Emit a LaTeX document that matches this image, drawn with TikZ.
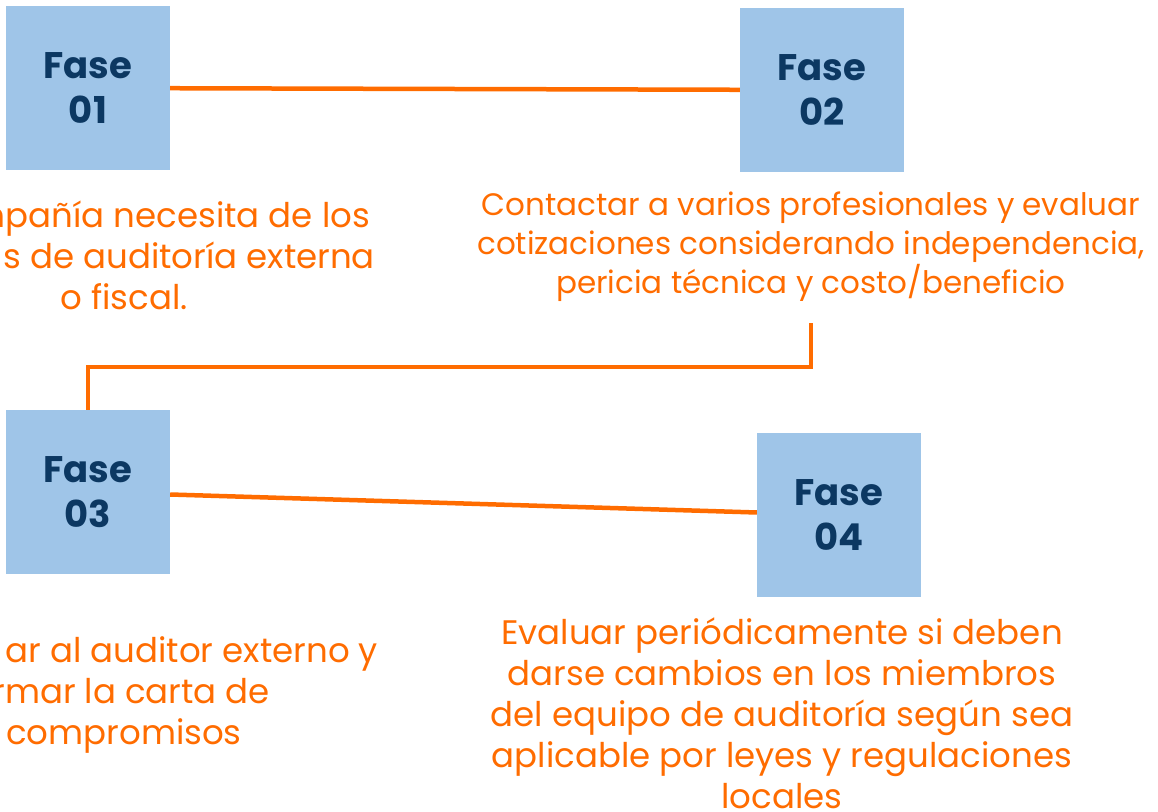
\documentclass[tikz,border=0pt]{standalone}
\usepackage{fontspec}
\setmainfont{Poppins}
\definecolor{faseblue}{RGB}{159,197,232}
\definecolor{fasenavy}{RGB}{12,56,98}
\definecolor{faseorange}{RGB}{255,108,0}

\begin{document}
\begin{tikzpicture}[x=1pt, y=-1pt,
		fase/.style={rectangle, fill=faseblue, minimum size=164pt, inner sep=0pt, align=center,
			text=fasenavy, font=\fontsize{37}{45}\selectfont\bfseries},
		desc/.style={inner sep=0pt, align=center, text=faseorange, font=\fontsize{34}{41}\selectfont},
		link/.style={draw=faseorange, line width=4.5pt}]
		\useasboundingbox (0,0) rectangle (1158,811);

		\draw
		(88, 88) node [fase] (f1) {Fase\\01}
		(822, 90) node [fase] (f2) {Fase\\02}
		(88, 492) node [fase] (f3) {Fase\\03}
		(839, 515) node [fase] (f4) {Fase\\04};

		\draw
		(124, 255) node [desc] (d1) {\makebox[492pt][r]{mpañía necesita de los}\\
			\makebox[502pt][r]{s de auditoría externa}\\o fiscal.}
		(811, 247) node [desc, font=\fontsize{31}{39}\selectfont] (d2) {Contactar a varios profesionales y evaluar\\
			cotizaciones considerando independencia,\\pericia técnica y costo/beneficio}
		(124, 695) node [desc] (d3) {\makebox[508pt][r]{ar al auditor externo y}\\
			\makebox[292pt][r]{rmar la carta de}\\compromisos}
		(782, 713) node [desc] (d4) {Evaluar periódicamente si deben\\darse cambios en los miembros\\
			del equipo de auditoría según sea\\aplicable por leyes y regulaciones\\locales};

		\coordinate (tail) at (811, 323);
		\draw[link] (f1) -- (f2);
		\draw[link] (tail) -- ++(0, 44) -| (f3.north);
		\draw[link] (f3) -- (f4);
	\end{tikzpicture}
\end{document}
